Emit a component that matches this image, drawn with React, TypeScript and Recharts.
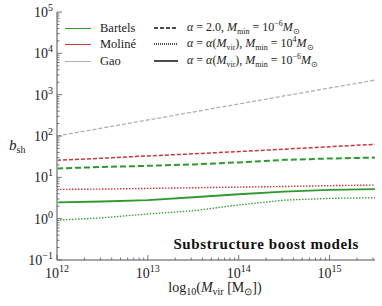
import React from "react";
import {
  LineChart, Line, XAxis, YAxis,
} from "recharts";

// log10(Mvir) sample points
const logMass = [12, 12.5, 13, 13.5, 14, 14.5, 15, 15.5];

const gaoDashed = [100, 156, 244, 381, 595, 930, 1450, 2250];
const molineDashed = [26, 29, 33, 37, 42, 48, 55, 63];
const bartelsDashed = [16.4, 17.8, 19, 20.5, 23, 26.5, 28.5, 30];
const molineDotted = [5.1, 5.2, 5.4, 5.6, 5.8, 6.0, 6.3, 6.5];
const bartelsSolid = [2.47, 2.6, 2.8, 3.3, 3.9, 4.5, 5.0, 5.2];
const bartelsDotted = [0.92, 1.05, 1.3, 1.55, 2.15, 2.8, 3.1, 3.2];

const xMajor = [12, 13, 14, 15];
const yMajor = [0.1, 1, 10, 100, 1000, 10000, 100000];

const GREEN = "#2e9a2e";
const RED = "#c8383a";
const GRAY = "#b0b0b0";
const FRAME = "#a8a8a8";
const FONT = "'Liberation Serif', serif";

const data = logMass.map((m, i) => ({
  m,
  gao: gaoDashed[i],
  molD: molineDashed[i],
  barD: bartelsDashed[i],
  molDot: molineDotted[i],
  barS: bartelsSolid[i],
  barDot: bartelsDotted[i],
}));

// minor ticks for log axes
const xTicks: number[] = [];
for (let d = 12; d <= 15; d++) {
  for (let k = 1; k <= 9; k++) {
    const v = d + Math.log10(k);
    if (v <= 15.5) xTicks.push(v);
  }
}
const yTicks: number[] = [];
for (let d = -1; d <= 4; d++) {
  for (let k = 1; k <= 9; k++) yTicks.push(k * Math.pow(10, d));
}
yTicks.push(100000);

const isMajorX = (v: number) => xMajor.some((t) => Math.abs(t - v) < 1e-9);
const isMajorY = (v: number) => yMajor.some((t) => Math.abs(t - v) / t < 1e-9);

const BottomTick = (props: any) => {
  const { x, y, payload } = props;
  const major = isMajorX(payload.value);
  return (
    <g>
      <line x1={x} x2={x} y1={y} y2={y - (major ? 5 : 2.5)} stroke="#555" strokeWidth={0.8} />
      {major && (
        <text x={x} y={y + 18} textAnchor="middle" fontFamily={FONT} fontSize={14} fill="#222">
          <tspan>10</tspan>
          <tspan dy={-6} fontSize={10}>{payload.value}</tspan>
        </text>
      )}
    </g>
  );
};

const TopTick = (props: any) => {
  const { x, y, payload } = props;
  const major = isMajorX(payload.value);
  return <line x1={x} x2={x} y1={y} y2={y + (major ? 5 : 2.5)} stroke="#555" strokeWidth={0.8} />;
};

const LeftTick = (props: any) => {
  const { x, y, payload } = props;
  const major = isMajorY(payload.value);
  const exp = Math.round(Math.log10(payload.value));
  return (
    <g>
      <line x1={x} x2={x + (major ? 5 : 2.5)} y1={y} y2={y} stroke="#555" strokeWidth={0.8} />
      {major && (
        <text x={x - 4} y={y + 5} textAnchor="end" fontFamily={FONT} fontSize={14} fill="#222">
          <tspan>10</tspan>
          <tspan dy={-6} fontSize={10}>{exp < 0 ? "\u2212" + -exp : exp}</tspan>
        </text>
      )}
    </g>
  );
};

const RightTick = (props: any) => {
  const { x, y, payload } = props;
  const major = isMajorY(payload.value);
  return <line x1={x} x2={x - (major ? 5 : 2.5)} y1={y} y2={y} stroke="#555" strokeWidth={0.8} />;
};

const Msun = () => (
  <span>
    <i>M</i>
    <sub style={{ fontSize: 8 }}>⊙</sub>
  </span>
);
const Mmin = () => (
  <span>
    <i>M</i>
    <sub style={{ fontSize: 8 }}>min</sub>
  </span>
);
const AlphaVir = () => (
  <span>
    <i>α</i> = <i>α</i>(<i>M</i>
    <sub style={{ fontSize: 8 }}>vir</sub>)
  </span>
);

const legendLeft = [
  { label: "Bartels", color: GREEN },
  { label: "Moliné", color: RED },
  { label: "Gao", color: GRAY },
];

const legendRight = [
  {
    dash: "4 2",
    content: (
      <span>
        <i>α</i> = 2.0, <Mmin /> = 10<sup style={{ fontSize: 8 }}>−6</sup>
        <Msun />
      </span>
    ),
  },
  {
    dash: "1 1",
    content: (
      <span>
        <AlphaVir />, <Mmin /> = 10<sup style={{ fontSize: 8 }}>4</sup>
        <Msun />
      </span>
    ),
  },
  {
    dash: undefined,
    content: (
      <span>
        <AlphaVir />, <Mmin /> = 10<sup style={{ fontSize: 8 }}>−6</sup>
        <Msun />
      </span>
    ),
  },
];

const rowY = [28, 44, 61];

export default function App() {
  return (
    <div style={{ position: "absolute", left: 0, top: 0, width: 382, height: 306, background: "#fff", fontFamily: FONT }}>
      <LineChart width={382} height={306} data={data} margin={{ top: 12, right: 7, left: 0, bottom: 0 }}>
        <XAxis
          xAxisId="b"
          dataKey="m"
          type="number"
          domain={[12, 15.5]}
          ticks={xTicks}
          interval={0}
          height={46}
          tickSize={0}
          tickMargin={0}
          tick={<BottomTick />}
          axisLine={{ stroke: FRAME, strokeWidth: 2 }}
          tickLine={false}
          allowDataOverflow
        />
        <XAxis
          xAxisId="t"
          dataKey="m"
          type="number"
          orientation="top"
          domain={[12, 15.5]}
          ticks={xTicks}
          interval={0}
          height={0}
          tickSize={0}
          tickMargin={0}
          tick={<TopTick />}
          axisLine={{ stroke: FRAME, strokeWidth: 2 }}
          tickLine={false}
          allowDataOverflow
        />
        <YAxis
          yAxisId="l"
          type="number"
          scale="log"
          domain={[0.1, 100000]}
          ticks={yTicks}
          interval={0}
          width={57}
          tickSize={0}
          tickMargin={0}
          tick={<LeftTick />}
          axisLine={{ stroke: FRAME, strokeWidth: 2 }}
          tickLine={false}
          allowDataOverflow
        />
        <YAxis
          yAxisId="r"
          orientation="right"
          type="number"
          scale="log"
          domain={[0.1, 100000]}
          ticks={yTicks}
          interval={0}
          width={0}
          tickSize={0}
          tickMargin={0}
          tick={<RightTick />}
          axisLine={{ stroke: FRAME, strokeWidth: 2 }}
          tickLine={false}
          allowDataOverflow
        />
        <Line xAxisId="b" yAxisId="l" dataKey="gao" stroke={GRAY} strokeWidth={1.3} strokeDasharray="4 2" dot={false} isAnimationActive={false} />
        <Line xAxisId="b" yAxisId="l" dataKey="molD" stroke={RED} strokeWidth={1.5} strokeDasharray="4 2" dot={false} isAnimationActive={false} />
        <Line xAxisId="b" yAxisId="l" dataKey="barD" stroke={GREEN} strokeWidth={2} strokeDasharray="6 3" dot={false} isAnimationActive={false} />
        <Line xAxisId="b" yAxisId="l" dataKey="molDot" stroke={RED} strokeWidth={1.4} strokeDasharray="1.5 1.5" dot={false} isAnimationActive={false} />
        <Line xAxisId="b" yAxisId="l" dataKey="barS" stroke={GREEN} strokeWidth={1.8} dot={false} isAnimationActive={false} />
        <Line xAxisId="b" yAxisId="l" dataKey="barDot" stroke={GREEN} strokeWidth={1.3} strokeDasharray="1.5 1.5" dot={false} isAnimationActive={false} />
      </LineChart>

      {legendLeft.map((it, i) => (
        <div key={it.label} style={{ position: "absolute", left: 65, top: rowY[i] - 8, height: 16, display: "flex", alignItems: "center", fontSize: 12.5, color: "#222" }}>
          <div style={{ width: 26, height: 0, borderTop: `1.5px solid ${it.color}`, marginRight: 9 }} />
          <span>{it.label}</span>
        </div>
      ))}
      {legendRight.map((it, i) => (
        <div key={i} style={{ position: "absolute", left: 154, top: rowY[i] - 8, height: 16, display: "flex", alignItems: "center", fontSize: 12, color: "#222", whiteSpace: "nowrap" }}>
          <svg width={24} height={4} style={{ marginRight: 9 }}>
            <line x1={0} x2={24} y1={2} y2={2} stroke="#111" strokeWidth={1.5} strokeDasharray={it.dash} />
          </svg>
          {it.content}
        </div>
      ))}

      <svg width={382} height={306} style={{ position: "absolute", left: 0, top: 0, pointerEvents: "none" }}>
        <text x={359} y={249} textAnchor="end" fontFamily={FONT} fontSize={15} fontWeight="bold" letterSpacing={0.6} fill="#111">
          Substructure boost models
        </text>
        <text x={9} y={150} fontFamily={FONT} fontSize={15} fill="#222">
          <tspan fontStyle="italic">b</tspan>
          <tspan dy={3} fontSize={10}>sh</tspan>
        </text>
        <text x={215} y={292} textAnchor="middle" fontFamily={FONT} fontSize={14} fill="#222">
          <tspan>log</tspan>
          <tspan dy={3} fontSize={10}>10</tspan>
          <tspan dy={-3}>(</tspan>
          <tspan fontStyle="italic">M</tspan>
          <tspan dy={3} fontSize={10}>vir</tspan>
          <tspan dy={-3}> [M</tspan>
          <tspan dy={3} fontSize={10}>⊙</tspan>
          <tspan dy={-3}>])</tspan>
        </text>
      </svg>
    </div>
  );
}
